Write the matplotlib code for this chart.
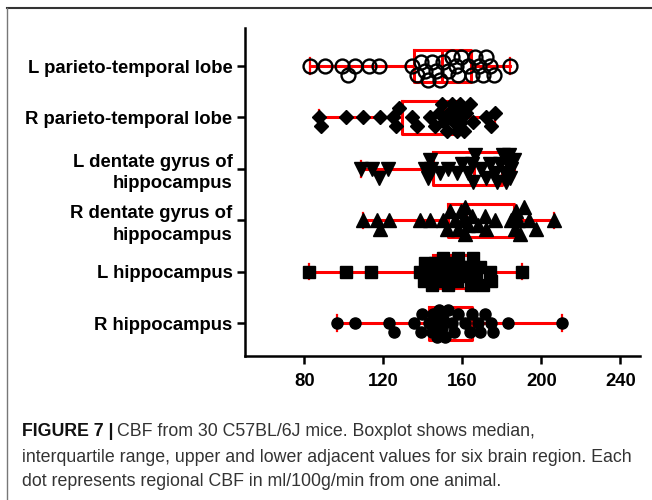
import matplotlib
matplotlib.use("Agg")
import matplotlib.pyplot as plt
import numpy as np
from matplotlib.lines import Line2D

plt.rcParams['font.family'] = ['Liberation Sans', 'DejaVu Sans']

categories = ["L parieto-temporal lobe", "R parieto-temporal lobe",
              "L dentate gyrus of\nhippocampus", "R dentate gyrus of\nhippocampus",
              "L hippocampus", "R hippocampus"]

l_parieto = [83, 90.5, 99.2, 102.2, 105.6, 112.7, 117.7, 134.8, 137, 139.2, 141.2,
             142.9, 144.9, 146.6, 148.7, 150.4, 152.6, 154.6, 156.6, 158, 159.6, 163,
             164.7, 166.7, 168.4, 170.5, 172.2, 173.9, 176.1, 184]
r_parieto = [87.5, 88.5, 101, 109.8, 118.6, 124.9, 126.5, 128, 134.5, 137, 143.7,
             146.2, 148, 149.9, 150.8, 152.1, 153.3, 154.6, 156, 157.1, 158, 158.8,
             159.6, 161, 162.1, 163.9, 165.5, 172.2, 174.7, 176.4]
l_dentate = [108.5, 114.4, 117.7, 122.4, 141.2, 142.9, 143.5, 144.2, 148.7, 152.9,
             157.1, 160, 163, 164.7, 165.5, 166.7, 169.7, 172.2, 174, 176.4, 177.5,
             178.9, 180.6, 181.4, 182.3, 183.1, 183.5, 184, 184.8, 186.1]
r_dentate = [109.7, 116.9, 118.6, 123.1, 138.7, 143.7, 150.4, 152.5, 154, 156.3, 158,
             159.6, 160.5, 161.3, 161.3, 163, 164.7, 168, 171.4, 172.2, 176.4, 184.5,
             186.5, 187.3, 188, 189, 191.5, 194, 197.4, 206.6]
l_hippo = [82.2, 101.3, 113.9, 138.7, 140.4, 141.2, 142.9, 144.6, 146.3, 148, 149.6,
           150.5, 151.3, 152, 153, 155.5, 156, 157.1, 157.8, 158.8, 162.2, 163.8,
           164.5, 165.5, 167.2, 168.8, 170.5, 173.9, 174.7, 190.2]
r_hippo = [96.4, 105.7, 122.8, 125.3, 135.8, 139.2, 139.5, 143, 144.5, 145.4, 146,
           147, 148, 149.6, 150.4, 151.5, 153, 154.6, 156, 158, 161.3, 163.8, 165,
           168, 169.2, 171.4, 174.7, 175.5, 183.1, 210.3]

series = [l_parieto, r_parieto, l_dentate, r_dentate, l_hippo, r_hippo]
xticks = [80, 120, 160, 200, 240]

W, H = 652, 500
fig = plt.figure(figsize=(W / 100, H / 100), dpi=100)
ax_l, ax_r, ax_t, ax_b = 245, 640, 28, 356
ax = fig.add_axes([ax_l / W, 1 - ax_b / H, (ax_r - ax_l) / W, (ax_b - ax_t) / H])
xlim = (50, 250)
ylim = (5.64, -0.74)
ax.set_xlim(*xlim)
ax.set_ylim(*ylim)

xscale = (ax_r - ax_l) / (xlim[1] - xlim[0])
yscale = (ax_b - ax_t) / (ylim[0] - ylim[1])

red = '#ff0000'
ax.boxplot(series, positions=range(6), orientation='horizontal', whis=(0, 100),
           widths=0.64, showfliers=False, patch_artist=False, capwidths=0.3,
           boxprops=dict(color=red, linewidth=2.2),
           medianprops=dict(color=red, linewidth=2.2),
           whiskerprops=dict(color=red, linewidth=2.2),
           capprops=dict(color=red, linewidth=1.6), zorder=2)


def swarm(vals, diam, step, maxoff):
    vals = np.asarray(vals, float)
    order = np.argsort(vals)
    placed = []
    offs = np.zeros(len(vals))
    cands = [0.0]
    k = 1
    while k * step <= maxoff:
        cands += [k * step, -k * step]
        k += 1
    for i in order:
        x = vals[i] * xscale
        best, bestd = 0.0, -1
        for dy in cands:
            if placed:
                d = min(np.hypot(x - px, dy - py) for px, py in placed)
            else:
                d = 1e9
            if d >= diam:
                best = dy
                break
            if d > bestd:
                bestd, best = d, dy
        placed.append((x, best))
        offs[i] = best
    return offs / yscale


markers = [
    dict(marker='o', mfc='none', mec='black', ms=10, mew=1.7),
    dict(marker='D', mfc='black', mec='black', ms=7.5, mew=1),
    dict(marker='v', mfc='black', mec='black', ms=10.5, mew=1),
    dict(marker='^', mfc='black', mec='black', ms=10.5, mew=1),
    dict(marker='s', mfc='black', mec='black', ms=8.5, mew=1),
    dict(marker='o', mfc='black', mec='black', ms=8, mew=1),
]
for i, (vals, mk) in enumerate(zip(series, markers)):
    offs = swarm(vals, diam=9, step=4.5, maxoff=17)
    ax.plot(vals, i + offs, linestyle='none', zorder=3, **mk)

ax.set_yticks(range(6))
ax.set_yticklabels(categories, fontweight='bold', fontsize=13.3, multialignment='right',
                   linespacing=1.35)
ax.set_xticks(xticks)
ax.set_xticklabels([str(t) for t in xticks], fontweight='bold', fontsize=13.3)
for s in ['top', 'right']:
    ax.spines[s].set_visible(False)
for s in ['left', 'bottom']:
    ax.spines[s].set_linewidth(1.8)
ax.tick_params(axis='both', width=1.8, length=6, pad=3, colors='black')
ax.tick_params(axis='x', pad=6)

# outer frame
fig.add_artist(Line2D([7 / W, 1], [1 - 8 / H] * 2, transform=fig.transFigure,
                      color='#333333', lw=1.5))
fig.add_artist(Line2D([7 / W] * 2, [0, 1 - 8 / H], transform=fig.transFigure,
                      color='#777777', lw=1.0))

# caption
fig.canvas.draw()
r = fig.canvas.get_renderer()
cx = 22 / W
fs = 12.8
t1 = fig.text(cx, 1 - 431 / H, "FIGURE 7 |", fontweight='bold', fontsize=fs,
              va='center', color='#111111')
bb = t1.get_window_extent(renderer=r)
fig.text((bb.x1 + 4) / W, 1 - 431 / H,
         "CBF from 30 C57BL/6J mice. Boxplot shows median,", fontsize=fs,
         va='center', color='#333333')
fig.text(cx, 1 - 457 / H,
         "interquartile range, upper and lower adjacent values for six brain region. Each",
         fontsize=fs, va='center', color='#333333')
fig.text(cx, 1 - 482 / H,
         "dot represents regional CBF in ml/100g/min from one animal.",
         fontsize=fs, va='center', color='#333333')

fig.savefig('out.png', dpi=100)
